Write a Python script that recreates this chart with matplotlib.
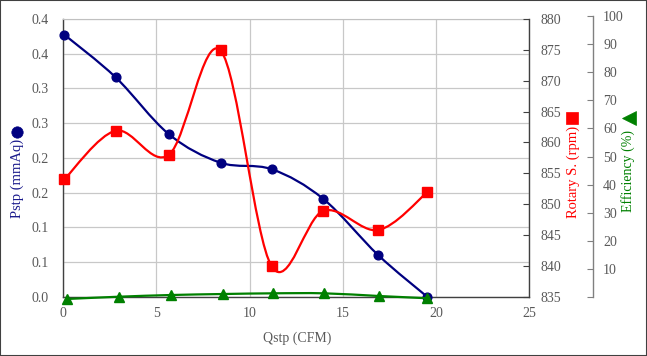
import matplotlib
matplotlib.use('Agg')
import matplotlib.pyplot as plt
from matplotlib.path import Path
from matplotlib.patches import PathPatch, Rectangle
from matplotlib.lines import Line2D

plt.rcParams['font.family'] = ['Liberation Serif', 'DejaVu Serif']

# ---------------- data ----------------
qstp = [0.05, 2.81, 5.67, 8.44, 11.19, 13.95, 16.90, 19.53]
pstp = [0.3775, 0.316, 0.234, 0.193, 0.1836, 0.141, 0.060, 0.0]
rpm = [854.0, 861.9, 858.0, 874.9, 839.9, 848.9, 845.8, 851.9]
qstp_eff = [0.18, 3.00, 5.78, 8.55, 11.26, 14.0, 16.93, 19.53]
eff = [-0.57, 0.25, 0.85, 1.2, 1.45, 1.45, 0.5, -0.3]

x_ticks = [0, 5, 10, 15, 20, 25]
p_ticks = [0.0, 0.05, 0.10, 0.15, 0.20, 0.25, 0.30, 0.35, 0.40]
p_tick_labels = ['0.0', '0.1', '0.1', '0.2', '0.2', '0.3', '0.3', '0.4', '0.4']
rpm_ticks = [835, 840, 845, 850, 855, 860, 865, 870, 875, 880]
eff_ticks = [0, 10, 20, 30, 40, 50, 60, 70, 80, 90, 100]
eff_tick_labels = ['', '10', '20', '30', '40', '50', '60', '70', '80', '90', '100']


def smooth_path(xs, ys):
    """Excel-like smoothed line as cubic Bezier segments (Catmull-Rom)."""
    n = len(xs)
    verts = [(xs[0], ys[0])]
    codes = [Path.MOVETO]
    for i in range(n - 1):
        i0 = max(i - 1, 0)
        i3 = min(i + 2, n - 1)
        c1 = (xs[i] + (xs[i + 1] - xs[i0]) / 6.0, ys[i] + (ys[i + 1] - ys[i0]) / 6.0)
        c2 = (xs[i + 1] - (xs[i3] - xs[i]) / 6.0, ys[i + 1] - (ys[i3] - ys[i]) / 6.0)
        verts += [c1, c2, (xs[i + 1], ys[i + 1])]
        codes += [Path.CURVE4] * 3
    return Path(verts, codes)


W, H = 647, 356
fig = plt.figure(figsize=(W / 100, H / 100), dpi=100)
L, R, T, B = 63.3, 529.0, 19.0, 296.7

tick_gray = '#595959'
spine_dark = '#404040'

# ---------------- main axis (Pstp) ----------------
ax = fig.add_axes([L / W, 1 - B / H, (R - L) / W, (B - T) / H])
ax.grid(True, color='#c8c8c8', lw=0.9)
ax.set_axisbelow(True)
for s in ['left', 'bottom']:
    ax.spines[s].set_color(spine_dark)
    ax.spines[s].set_linewidth(1.0)
ax.spines['top'].set_color('#c0c0c0')
ax.spines['right'].set_visible(False)
ax.tick_params(axis='both', length=0, labelsize=10, labelcolor=tick_gray)
ax.tick_params(axis='x', pad=7.5)
ax.tick_params(axis='y', pad=10.5)

ax.add_patch(PathPatch(smooth_path(qstp, pstp), fill=False, edgecolor='#000080',
                       lw=1.6, zorder=2))
ax.plot(qstp, pstp, ls='none', marker='o', ms=6.3, color='#000080', clip_on=False, zorder=3)
ax.set_xlim(0, 25)
ax.set_ylim(0, 0.4)
ax.set_xticks(x_ticks)
ax.set_yticks(p_ticks)
ax.set_yticklabels(p_tick_labels)

# ---------------- secondary axis (rpm) ----------------
ax2 = ax.twinx()
for s in ['left', 'top', 'bottom']:
    ax2.spines[s].set_visible(False)
ax2.spines['right'].set_color(spine_dark)
ax2.spines['right'].set_linewidth(1.0)
ax2.add_patch(PathPatch(smooth_path(qstp, rpm), fill=False, edgecolor='#ff0000',
                        lw=1.6, zorder=2))
ax2.plot(qstp, rpm, ls='none', marker='s', ms=6.5, color='#ff0000', clip_on=False, zorder=3)
ax2.set_ylim(835, 880)
ax2.set_yticks(rpm_ticks)
ax2.tick_params(axis='y', direction='in', length=4, width=0.8, color=spine_dark,
                labelsize=10, labelcolor=tick_gray, pad=8.2)

# ---------------- third axis (efficiency) ----------------
EB, ET = 297.4, 15.9
ax3 = fig.add_axes([L / W, 1 - EB / H, (R - L) / W, (EB - ET) / H])
ax3.patch.set_visible(False)
for s in ['left', 'top', 'bottom']:
    ax3.spines[s].set_visible(False)
ax3.spines['right'].set_position(('axes', (592.7 - L) / (R - L)))
ax3.spines['right'].set_color('#808080')
ax3.spines['right'].set_linewidth(1.0)
ax3.yaxis.tick_right()
ax3.set_xticks([])
ax3.add_patch(PathPatch(smooth_path(qstp_eff, eff), fill=False, edgecolor='#008000',
                        lw=1.6, zorder=2, clip_on=False))
ax3.plot(qstp_eff, eff, ls='none', marker='^', ms=6.8, color='#008000', clip_on=False, zorder=3)
ax3.set_xlim(0, 25)
ax3.set_ylim(0, 100)
ax3.set_yticks(eff_ticks)
ax3.set_yticklabels(eff_tick_labels)
ax3.tick_params(axis='y', direction='in', length=4, width=0.8, color='#808080',
                labelsize=10, labelcolor=tick_gray, pad=7.5)

# ---------------- axis titles ----------------
fig.text(17.3 / W, 1 - 178.5 / H, 'Pstp (mmAq)', rotation=90, ha='center', va='center',
         color='#1a1a8c', fontsize=10.5)
fig.add_artist(Line2D([17.3 / W], [1 - 132.3 / H], marker='o', ms=8.2, mew=0.5,
                      color='#000080', transform=fig.transFigure))

fig.text(573 / W, 1 - 172 / H, 'Rotary S. (rpm)', rotation=90, ha='center', va='center',
         color='#ff0000', fontsize=10.5)
fig.add_artist(Line2D([572 / W], [1 - 118 / H], marker='s', ms=8.2, mew=0.5,
                      color='#ff0000', transform=fig.transFigure))

fig.text(628.5 / W, 1 - 171 / H, 'Efficiency (%)', rotation=90, ha='center', va='center',
         color='#008000', fontsize=10)
fig.add_artist(Line2D([629 / W], [1 - 117.5 / H], marker='<', ms=9.5, mew=0.5,
                      color='#008000', transform=fig.transFigure))

fig.text(297 / W, 1 - 338 / H, 'Qstp (CFM)', ha='center', va='center',
         color=tick_gray, fontsize=10)

# outer border
fig.add_artist(Rectangle((0, 0), 1, 1, transform=fig.transFigure, fill=False,
                         edgecolor=spine_dark, lw=1.5, clip_on=False))

fig.savefig('out.png', dpi=100)
